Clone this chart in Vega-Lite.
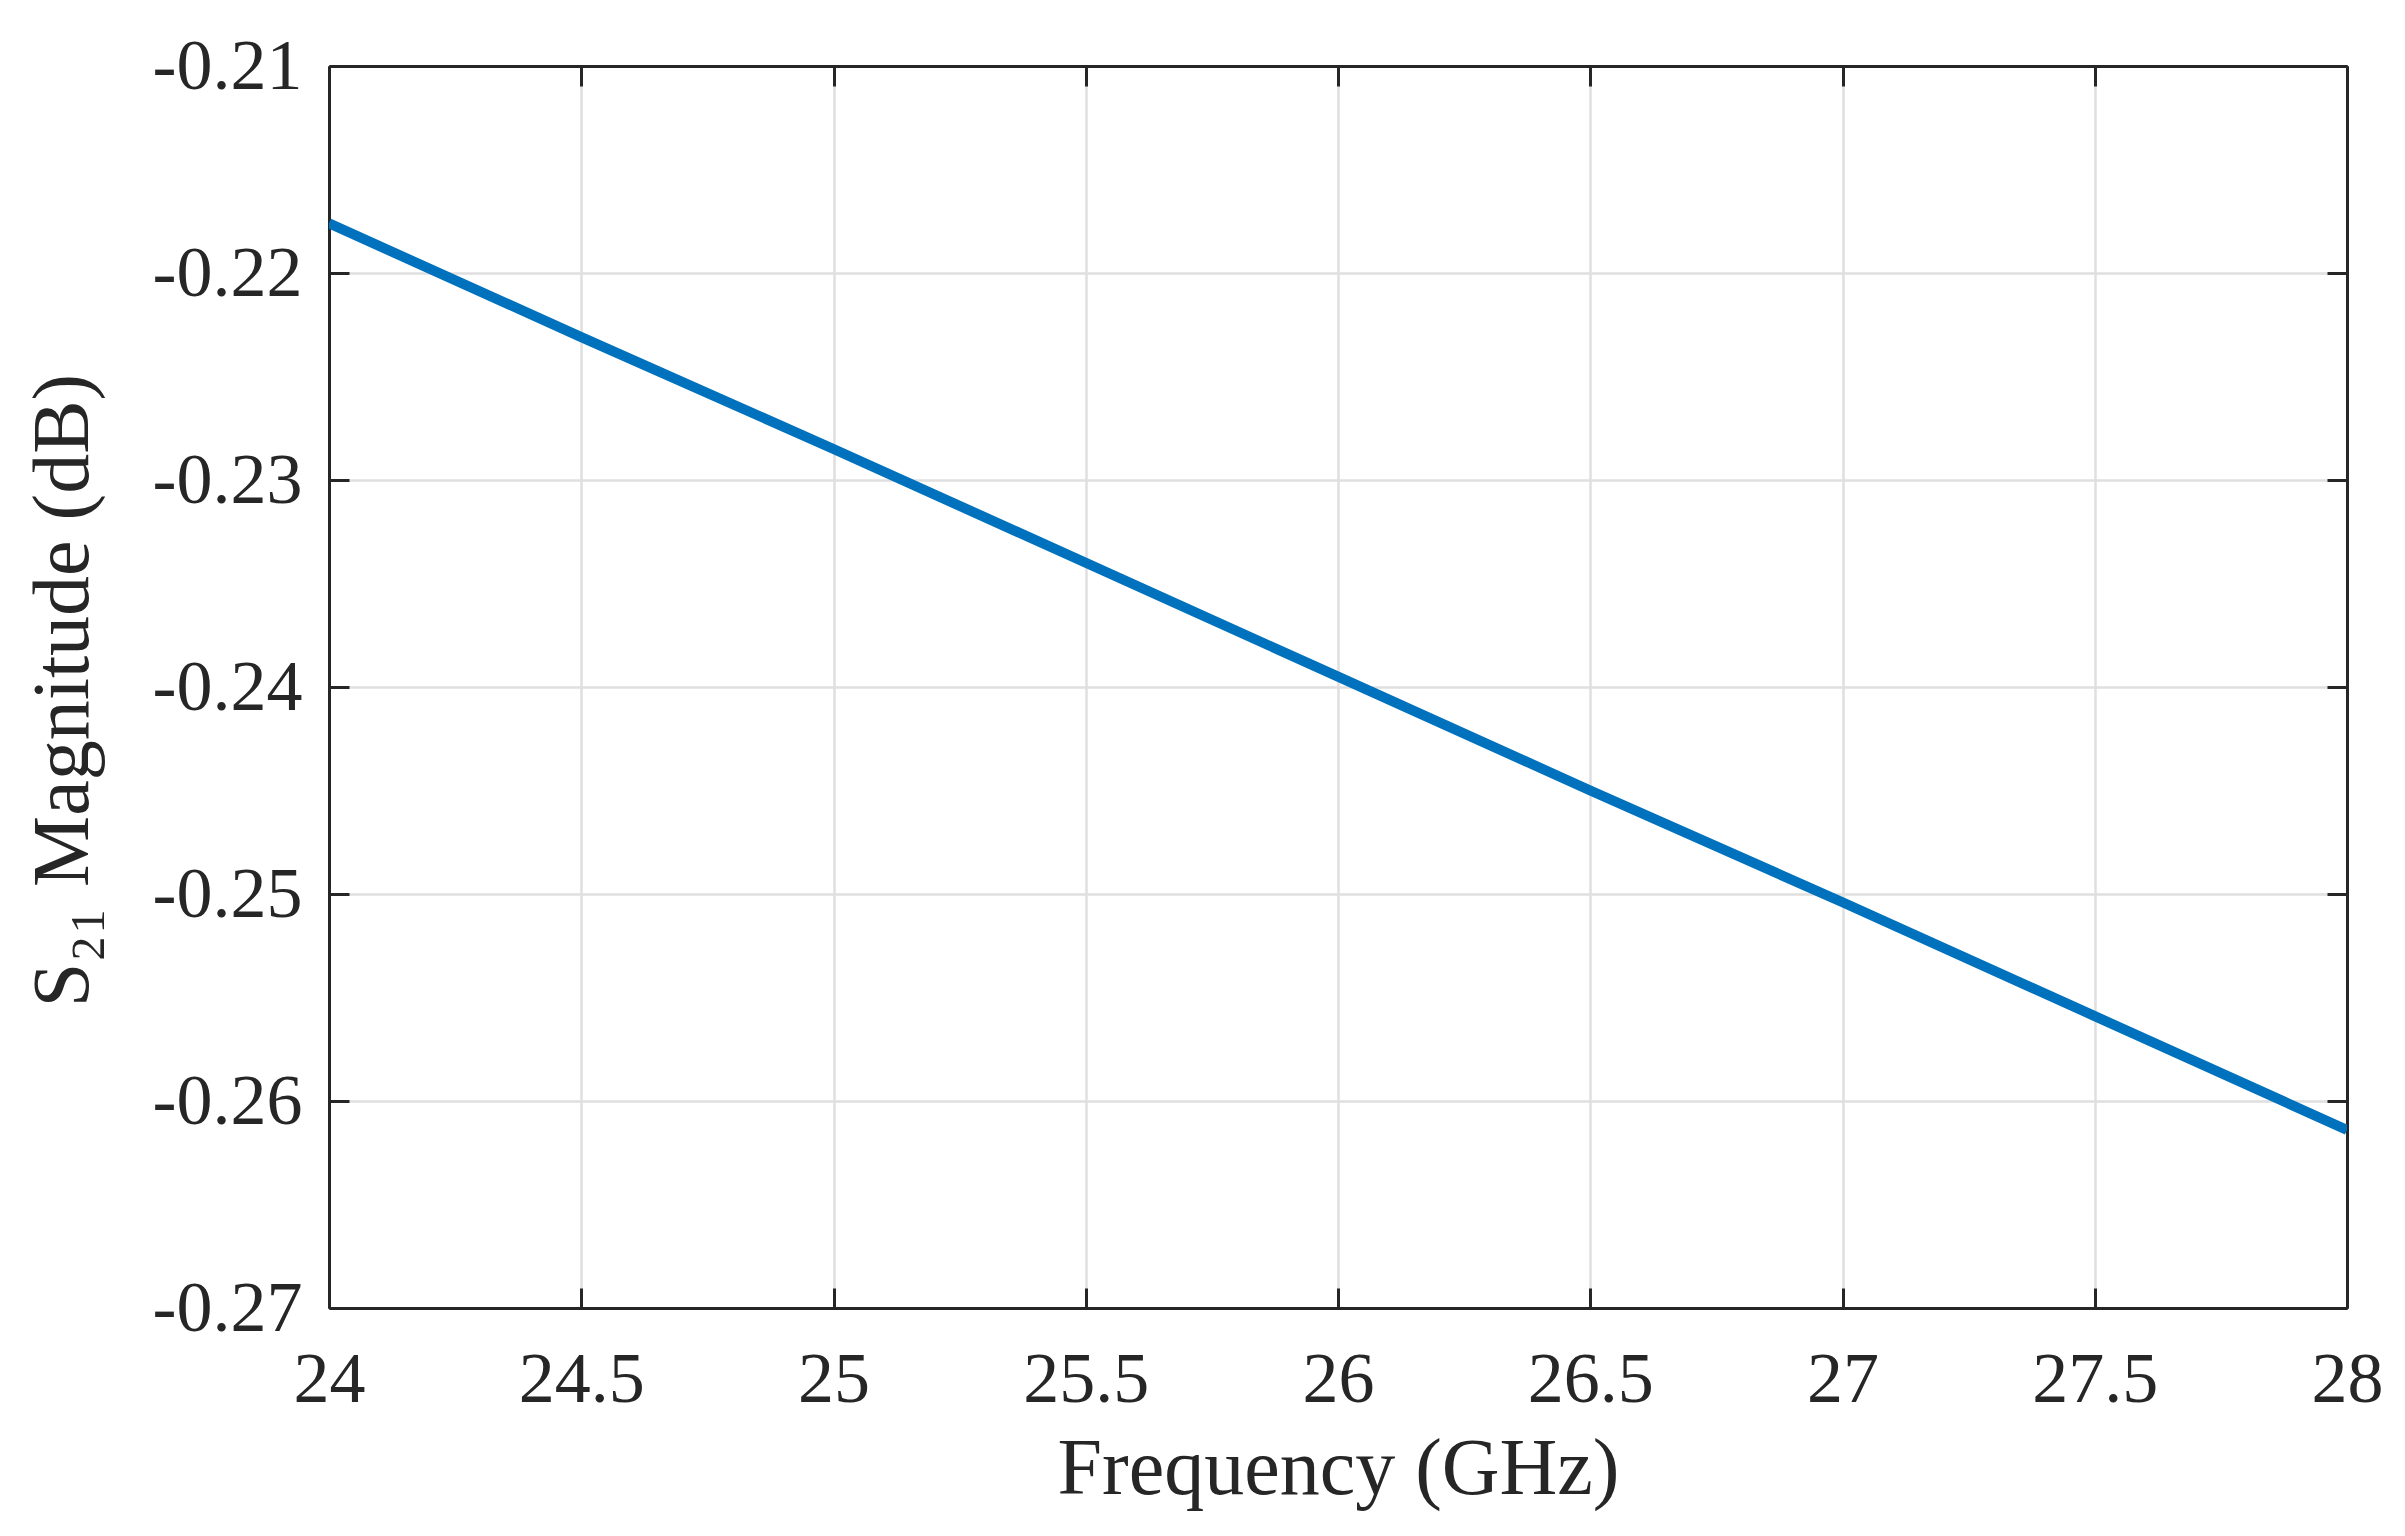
{
  "$schema": "https://vega.github.io/schema/vega-lite/v6.json",
  "width": 2018,
  "height": 1242,
  "autosize": "none",
  "padding": {"left": 329, "top": 66, "right": 58, "bottom": 228},
  "background": "white",
  "config": {
    "view": {"stroke": null},
    "font": "Liberation Serif",
    "axis": {
      "domainColor": "#262626",
      "domainWidth": 3,
      "tickColor": "#262626",
      "tickWidth": 3,
      "tickSize": -20,
      "gridColor": "#dfdfdf",
      "gridWidth": 2.5,
      "labelFont": "Liberation Serif",
      "labelFontSize": 72,
      "labelColor": "#262626",
      "titleFont": "Liberation Serif",
      "titleFontSize": 80,
      "titleFontWeight": "normal",
      "titleColor": "#262626"
    }
  },
  "data": {
    "values": [
      {"freq": 24.0, "s21": -0.2176},
      {"freq": 24.5, "s21": -0.2231},
      {"freq": 25.0, "s21": -0.2285},
      {"freq": 25.5, "s21": -0.2340},
      {"freq": 26.0, "s21": -0.2395},
      {"freq": 26.5, "s21": -0.2450},
      {"freq": 27.0, "s21": -0.2504},
      {"freq": 27.5, "s21": -0.2559},
      {"freq": 28.0, "s21": -0.2614}
    ]
  },
  "layer": [
    {
      "mark": {"type": "line", "color": "#0072BD", "strokeWidth": 10, "clip": true},
      "encoding": {
        "x": {
          "field": "freq",
          "type": "quantitative",
          "scale": {"domain": [24, 28], "nice": false, "zero": false},
          "axis": {
            "orient": "bottom",
            "values": [24, 24.5, 25, 25.5, 26, 26.5, 27, 27.5, 28],
            "format": "~g",
            "grid": true,
            "labelPadding": 56,
            "labelBaseline": "top",
            "labelFlush": false,
            "title": "Frequency (GHz)",
            "titleX": 1009,
            "titleY": 185,
            "titleAlign": "center",
            "titleBaseline": "alphabetic"
          }
        },
        "y": {
          "field": "s21",
          "type": "quantitative",
          "scale": {"domain": [-0.27, -0.21], "nice": false, "zero": false},
          "axis": {
            "orient": "left",
            "values": [-0.27, -0.26, -0.25, -0.24, -0.23, -0.22, -0.21],
            "labelExpr": "replace(format(datum.value, '.2f'), '\u2212', '-')",
            "grid": true,
            "labelPadding": 47,
            "labelAlign": "right",
            "labelBaseline": "middle",
            "labelFlush": false,
            "title": "S\u2082\u2081 Magnitude (dB)",
            "titleAngle": 270,
            "titleX": -242,
            "titleY": 624,
            "titleAlign": "center",
            "titleBaseline": "alphabetic"
          }
        }
      }
    },
    {
      "mark": {"type": "line", "opacity": 0},
      "encoding": {
        "x": {
          "field": "freq",
          "type": "quantitative",
          "axis": {
            "orient": "top",
            "values": [24, 24.5, 25, 25.5, 26, 26.5, 27, 27.5, 28],
            "labels": false,
            "grid": false,
            "title": null
          }
        },
        "y": {
          "field": "s21",
          "type": "quantitative",
          "axis": {
            "orient": "right",
            "values": [-0.27, -0.26, -0.25, -0.24, -0.23, -0.22, -0.21],
            "labels": false,
            "grid": false,
            "title": null
          }
        }
      }
    }
  ],
  "resolve": {"axis": {"x": "independent", "y": "independent"}}
}
